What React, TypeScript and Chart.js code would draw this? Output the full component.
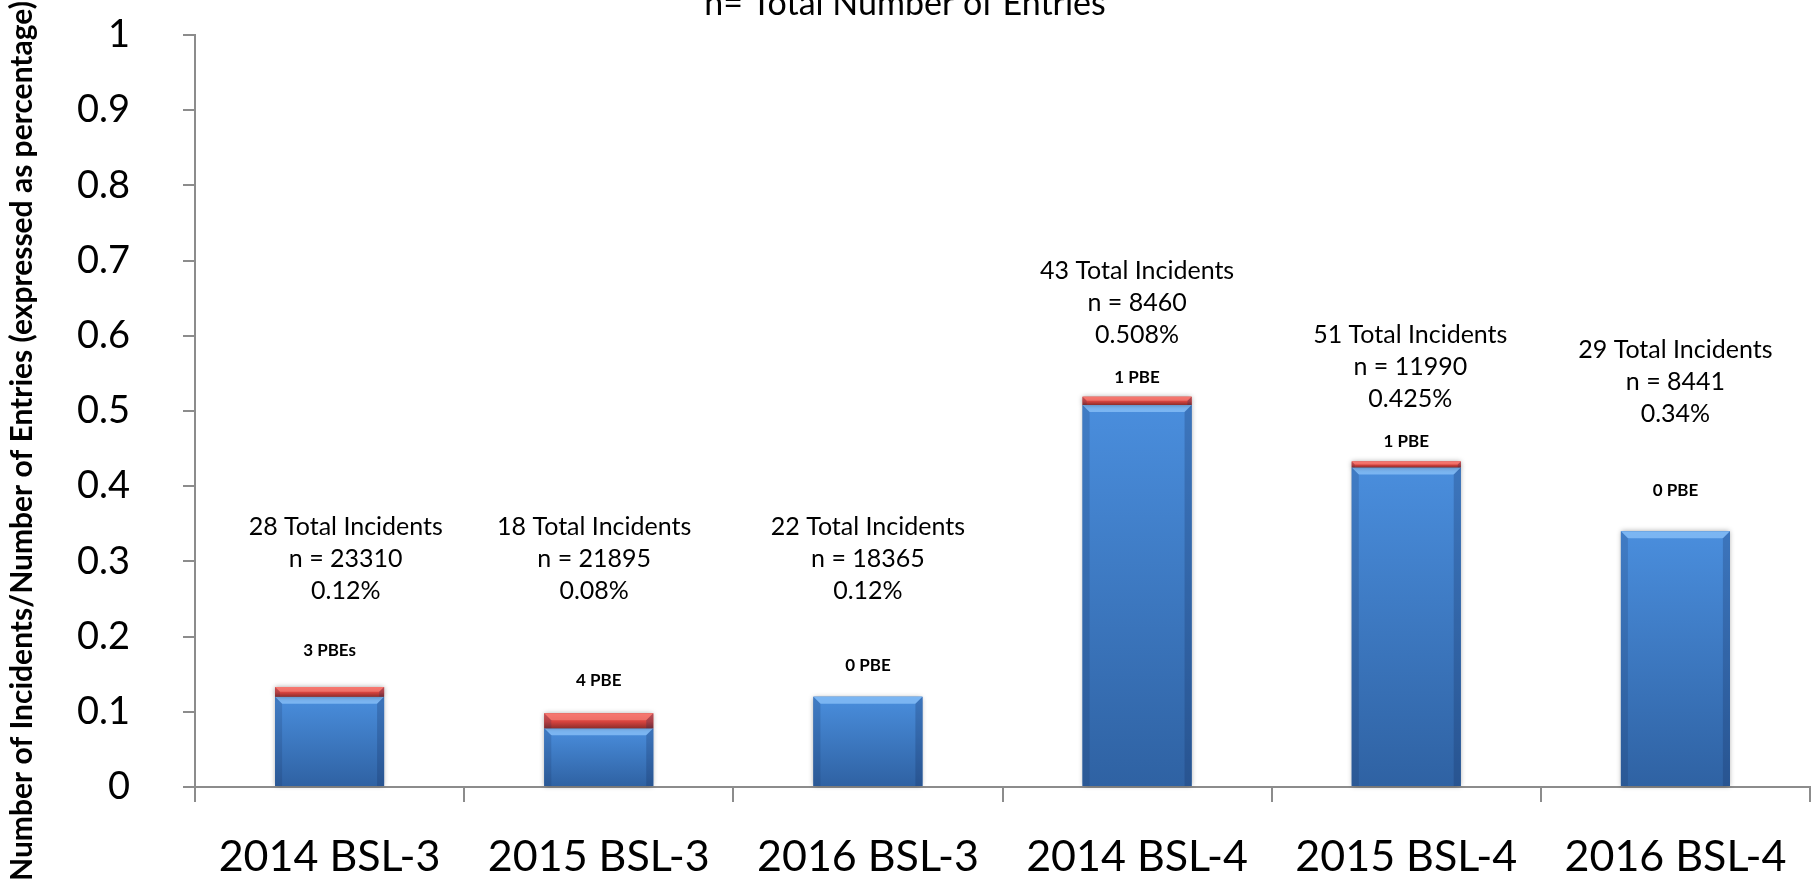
import { useEffect, useRef } from 'react';
import { Chart, registerables } from 'chart.js';

Chart.register(...registerables);

const categories = ['2014 BSL-3', '2015 BSL-3', '2016 BSL-3', '2014 BSL-4', '2015 BSL-4', '2016 BSL-4'];
const incidentRate = [0.12, 0.078, 0.12, 0.508, 0.425, 0.34];
const pbeRate = [0.013, 0.02, 0, 0.011, 0.008, 0];
const totalIncidents = [28, 18, 22, 43, 51, 29];
const entryCounts = [23310, 21895, 18365, 8460, 11990, 8441];
const percentLabels = ['0.12%', '0.08%', '0.12%', '0.508%', '0.425%', '0.34%'];
const pbeLabels = ['3 PBEs', '4 PBE', '0 PBE', '1 PBE', '1 PBE', '0 PBE'];
// value (in y units) at which each annotation block / PBE label sits
const annotationAt = [0.346, 0.346, 0.346, 0.686, 0.601, 0.581];
const pbeLabelAt = [0.182, 0.141, 0.161, 0.544, 0.459, 0.394];
// horizontal nudge of each annotation block, in category units
const annotationShift = [0.06, -0.017, 0, 0, 0.015, 0];

const titleText = 'n= Total Number of Entries';
const yTitleText = 'Number of Incidents/Number of Entries (expressed as percentage)';

const FONT = 'Lato, "Open Sans", sans-serif';
const AXIS_GREY = '#8c8c8c';

const bevelPlugin = {
  id: 'bevel',
  afterDatasetsDraw(chart: any) {
    const ctx: CanvasRenderingContext2D = chart.ctx;
    chart.data.datasets.forEach((_ds: any, di: number) => {
      const meta = chart.getDatasetMeta(di);
      meta.data.forEach((el: any) => {
        const { x, y, base, width } = el.getProps(['x', 'y', 'base', 'width'], true);
        const left = x - width / 2;
        const right = x + width / 2;
        const top = Math.min(y, base);
        const bottom = Math.max(y, base);
        const h = bottom - top;
        if (h < 0.5) return;
        ctx.save();
        const g = ctx.createLinearGradient(0, top, 0, bottom);
        if (di === 0) {
          g.addColorStop(0, '#4a8edd');
          g.addColorStop(1, '#2f62a3');
        } else {
          g.addColorStop(0, '#ee5b56');
          g.addColorStop(0.55, '#d8443f');
          g.addColorStop(1, '#8e2d2b');
        }
        ctx.shadowColor = 'rgba(0,0,0,0.35)';
        ctx.shadowBlur = 5;
        ctx.fillStyle = g;
        ctx.fillRect(left, top, width, h);
        ctx.shadowColor = 'transparent';
        ctx.shadowBlur = 0;
        const b = Math.min(7, h / 2);
        ctx.beginPath();
        ctx.moveTo(left, top);
        ctx.lineTo(right, top);
        ctx.lineTo(right - b, top + b);
        ctx.lineTo(left + b, top + b);
        ctx.closePath();
        ctx.fillStyle = di === 0 ? 'rgba(140,195,250,0.75)' : 'rgba(255,150,140,0.5)';
        ctx.fill();
        ctx.beginPath();
        ctx.moveTo(left, top);
        ctx.lineTo(left + b, top + b);
        ctx.lineTo(left + b, bottom);
        ctx.lineTo(left, bottom);
        ctx.closePath();
        ctx.fillStyle = 'rgba(20,45,90,0.18)';
        ctx.fill();
        ctx.beginPath();
        ctx.moveTo(right, top);
        ctx.lineTo(right - b, top + b);
        ctx.lineTo(right - b, bottom);
        ctx.lineTo(right, bottom);
        ctx.closePath();
        ctx.fillStyle = 'rgba(20,45,90,0.25)';
        ctx.fill();
        ctx.restore();
      });
    });
  },
};

const textPlugin = {
  id: 'texts',
  afterDraw(chart: any) {
    const ctx: CanvasRenderingContext2D = chart.ctx;
    const xs = chart.scales.x;
    const ys = chart.scales.y;
    ctx.save();
    ctx.fillStyle = '#000';
    ctx.textAlign = 'center';

    ctx.font = `34px ${FONT}`;
    ctx.textBaseline = 'alphabetic';
    ctx.fillText(titleText, 905, 15);

    ctx.save();
    ctx.translate(22, 441);
    ctx.rotate(-Math.PI / 2);
    ctx.font = `bold 30px ${FONT}`;
    ctx.textBaseline = 'middle';
    ctx.fillText(yTitleText, 0, 0);
    ctx.restore();

    ctx.textBaseline = 'middle';
    categories.forEach((_c, i) => {
      const cx = xs.getPixelForValue(i);
      const ax = xs.getPixelForValue(i + annotationShift[i]);
      const y0 = ys.getPixelForValue(annotationAt[i]);
      ctx.font = `25px ${FONT}`;
      const lines = [`${totalIncidents[i]} Total Incidents`, `n = ${entryCounts[i]}`, percentLabels[i]];
      lines.forEach((ln, k) => ctx.fillText(ln, ax, y0 + k * 32));
      ctx.font = `bold 17px ${FONT}`;
      ctx.fillText(pbeLabels[i], cx, ys.getPixelForValue(pbeLabelAt[i]));
    });
    ctx.restore();
  },
};

export default function App() {
  const ref = useRef<HTMLCanvasElement | null>(null);
  useEffect(() => {
    document.body.style.margin = '0';
    if (!ref.current) return;
    const chart = new Chart(ref.current, {
      type: 'bar',
      data: {
        labels: categories,
        datasets: [
          { label: 'Incidents', data: incidentRate, backgroundColor: '#3a76c2', borderWidth: 0 },
          { label: 'PBE', data: pbeRate, backgroundColor: '#d8443f', borderWidth: 0 },
        ],
      },
      options: {
        responsive: false,
        animation: false,
        events: [],
        layout: { padding: { top: 35, right: 9, left: 0, bottom: 0 } },
        datasets: { bar: { categoryPercentage: 1, barPercentage: 0.405 } },
        plugins: { legend: { display: false }, tooltip: { enabled: false }, title: { display: false } },
        scales: {
          x: {
            stacked: true,
            grid: { display: true, drawOnChartArea: false, drawTicks: true, tickLength: 15, color: AXIS_GREY, lineWidth: 2, offset: true },
            border: { display: true, color: AXIS_GREY, width: 2 },
            ticks: { color: '#000', font: { family: FONT, size: 43 }, padding: 29, maxRotation: 0 },
            afterFit: (s: any) => {
              s.height = 98;
              s.paddingLeft = 0;
              s.paddingRight = 0;
            },
          },
          y: {
            stacked: true,
            min: 0,
            max: 1,
            ticks: {
              stepSize: 0.1,
              color: '#000',
              font: { family: FONT, size: 38 },
              padding: 53,
              callback: (v: any) => String(Math.round(Number(v) * 10) / 10),
            },
            grid: { display: true, drawOnChartArea: false, drawTicks: true, tickLength: 12, color: AXIS_GREY, lineWidth: 2 },
            border: { display: true, color: AXIS_GREY, width: 2 },
            afterFit: (s: any) => {
              s.width = 195;
              s.paddingTop = 0;
              s.paddingBottom = 0;
            },
          },
        },
      },
      plugins: [bevelPlugin, textPlugin],
    });
    return () => chart.destroy();
  }, []);
  return (
    <div style={{ width: 1819, height: 885 }}>
      <canvas ref={ref} width={1819} height={885} />
    </div>
  );
}
